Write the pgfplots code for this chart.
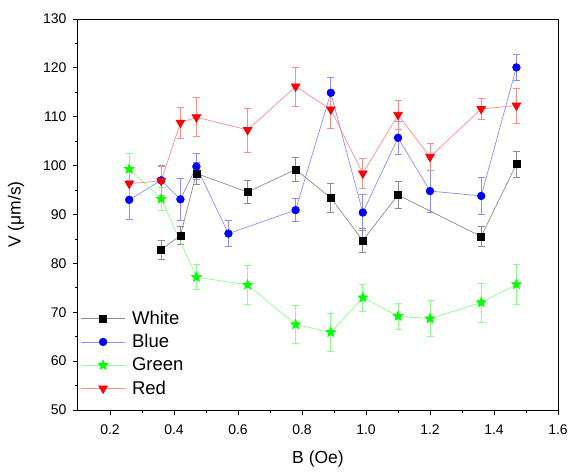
\documentclass[border=0pt]{standalone}
\usepackage{pgfplots}
\pgfplotsset{compat=1.18}
\usepackage{fontspec}
\setmainfont{Liberation Sans}

% filled five-pointed star
\pgfdeclareplotmark{fstar}{%
  \pgfpathmoveto{\pgfpointpolar{90}{\pgfplotmarksize}}%
  \pgfpathlineto{\pgfpointpolar{126}{0.45\pgfplotmarksize}}%
  \pgfpathlineto{\pgfpointpolar{162}{\pgfplotmarksize}}%
  \pgfpathlineto{\pgfpointpolar{198}{0.45\pgfplotmarksize}}%
  \pgfpathlineto{\pgfpointpolar{234}{\pgfplotmarksize}}%
  \pgfpathlineto{\pgfpointpolar{270}{0.45\pgfplotmarksize}}%
  \pgfpathlineto{\pgfpointpolar{306}{\pgfplotmarksize}}%
  \pgfpathlineto{\pgfpointpolar{342}{0.45\pgfplotmarksize}}%
  \pgfpathlineto{\pgfpointpolar{18}{\pgfplotmarksize}}%
  \pgfpathlineto{\pgfpointpolar{54}{0.45\pgfplotmarksize}}%
  \pgfpathclose
  \pgfusepathqfillstroke}

\pgfplotstableread{
x     y      e
0.36  82.8   1.9
0.42  85.7   1.8
0.47  98.4   2.2
0.63  94.6   2.3
0.78  99.2   2.5
0.89  93.4   3.0
0.99  84.7   2.4
1.10  94.0   2.7
1.36  85.5   2.0
1.47  100.3  2.6
}\whitedata

\pgfplotstableread{
x     y      e
0.26  93.0   4.0
0.36  97.0   3.0
0.42  93.1   4.3
0.47  99.8   2.7
0.57  86.1   2.7
0.78  90.9   2.4
0.89  114.9  3.2
0.99  90.4   3.7
1.10  105.7  3.3
1.20  94.8   4.3
1.36  93.8   3.7
1.47  120.1  2.7
}\bluedata

\pgfplotstableread{
x     y      e
0.26  99.3   3.2
0.36  93.2   2.3
0.47  77.2   2.5
0.63  75.6   4.0
0.78  67.5   3.9
0.89  65.9   3.9
0.99  73.0   2.8
1.10  69.2   2.7
1.20  68.7   3.7
1.36  72.0   4.0
1.47  75.7   4.0
}\greendata

\pgfplotstableread{
x     y      e
0.26  96.3   2.8
0.36  96.9   3.0
0.42  108.8  3.2
0.47  109.9  4.0
0.63  107.3  4.5
0.78  116.2  4.0
0.89  111.5  3.8
0.99  98.4   3.0
1.10  110.4  2.9
1.20  101.8  2.8
1.36  111.6  2.2
1.47  112.3  3.6
}\reddata

\begin{document}
\begin{tikzpicture}
  \begin{axis}[
    scale only axis,
    width=480pt,
    height=391pt,
    xmin=0.1, xmax=1.6,
    ymin=50, ymax=130,
    xtick={0.2,0.4,...,1.6},
    ytick={50,60,...,130},
    minor x tick num=1,
    minor y tick num=1,
    xticklabel style={/pgf/number format/fixed, /pgf/number format/precision=1,
      /pgf/number format/fixed zerofill, yshift=-6pt},
    yticklabel style={xshift=-3pt},
    tick align=outside,
    xtick pos=bottom,
    ytick pos=left,
    major tick length=5pt,
    minor tick length=3pt,
    axis line style={line width=1pt},
    tick style={line width=0.8pt, black},
    /pgf/number format/assume math mode=true,
    tick label style={font=\fontsize{14}{16}\selectfont},
    label style={font=\fontsize{17.5}{20}\selectfont},
    xlabel={B (Oe)},
    ylabel={V (μm/s)},
    xlabel style={yshift=-10pt},
    ylabel style={yshift=12pt},
    legend cell align=left,
    legend style={
      draw=none, fill=none,
      at={(0.004,0.264)}, anchor=north west,
      font=\fontsize{18.5}{21}\selectfont,
      row sep=4.6pt,
      inner xsep=1pt,
      /tikz/every odd column/.append style={column sep=5pt}
    },
    legend image code/.code={
      \draw[mark repeat=2, mark phase=2]
        plot coordinates {(0cm,0cm) (0.76cm,0cm) (1.52cm,0cm)};
    },
    every axis plot/.append style={line width=0.7pt},
    error bars/error bar style={line width=0.7pt},
    error bars/error mark options={rotate=90, mark size=3.5pt, line width=0.7pt},
    clip=false
  ]

    \addplot[black!45, mark=square*, mark size=3.5pt,
      mark options={fill=black, draw=black},
      error bars/.cd, y dir=both, y explicit]
      table[x=x, y=y, y error=e] {\whitedata};
    \addlegendentry{White}

    \addplot[blue!45, mark=*, mark size=3.8pt,
      mark options={fill=blue, draw=blue},
      error bars/.cd, y dir=both, y explicit]
      table[x=x, y=y, y error=e] {\bluedata};
    \addlegendentry{Blue}

    \addplot[green!45, mark=fstar, mark size=5pt,
      mark options={fill=green, draw=green},
      error bars/.cd, y dir=both, y explicit]
      table[x=x, y=y, y error=e] {\greendata};
    \addlegendentry{Green}

    \addplot[red!45, mark=triangle*, mark size=5pt,
      mark options={fill=red, draw=red, rotate=180},
      error bars/.cd, y dir=both, y explicit]
      table[x=x, y=y, y error=e] {\reddata};
    \addlegendentry{Red}

  \end{axis}
  \pgfresetboundingbox
  \path[use as bounding box] (-78pt,-61pt) rectangle (491pt,410pt);
\end{tikzpicture}
\end{document}
